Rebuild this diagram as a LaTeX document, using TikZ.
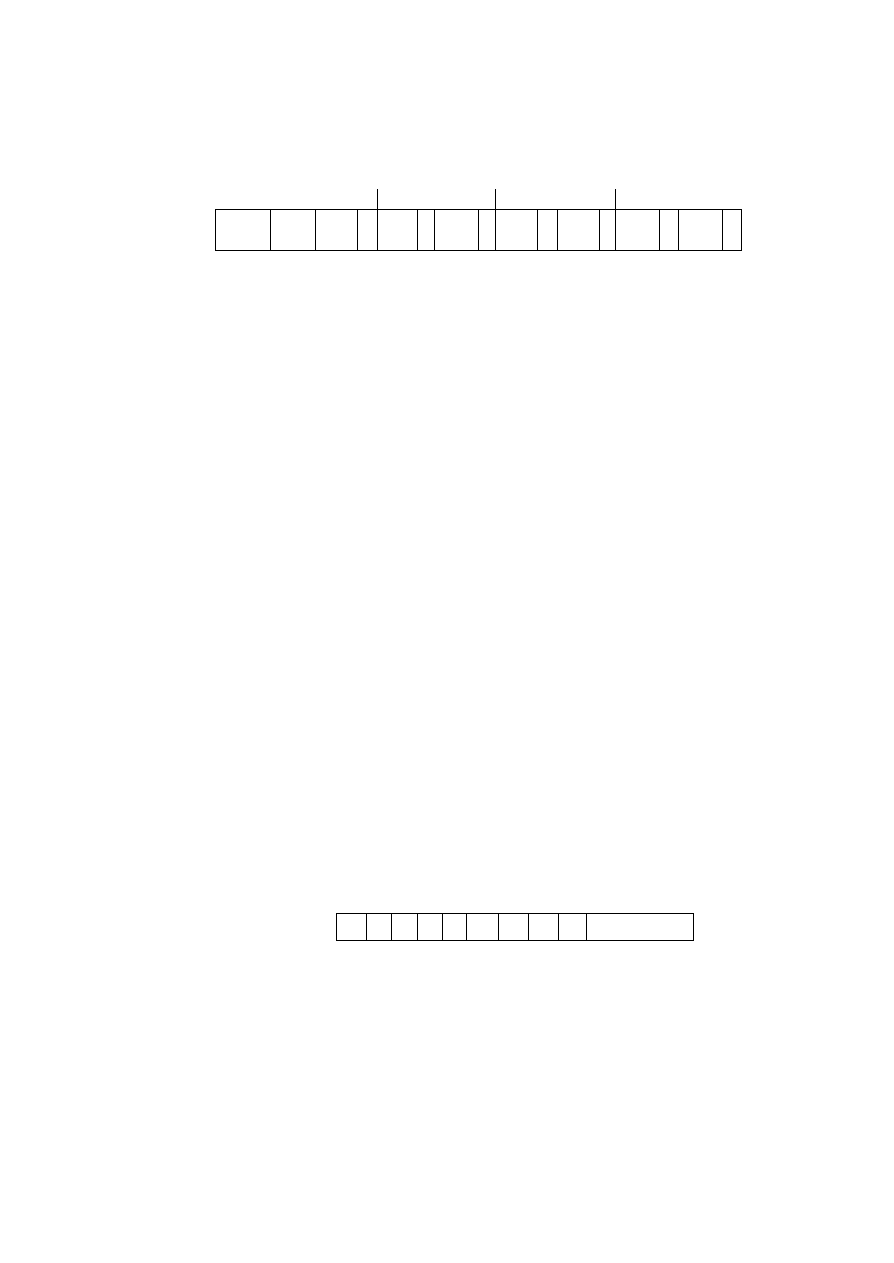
\documentclass[tikz,border=0pt]{standalone}
\begin{document}
\begin{tikzpicture}[x = 0.75pt, y = -0.75pt, line width = 0.6pt]

\useasboundingbox (0, 0) rectangle (893, 1263);

% upper register
\begin{scope}
\draw (215.3, 209) rectangle (741.3, 250);
\foreach \xd in {270.3, 315.3, 357.3, 377.3, 417.3, 434.3, 478.3, 495.3, 537.3, 557.3, 599.3, 615.3, 659.3, 678.3, 722.3}
  \draw (\xd, 209) -- (\xd, 250);

\foreach \xt in {377.3, 495.3, 615.3}
  \draw (\xt, 189) -- (\xt, 209);
\end{scope}


% lower register
\begin{scope}
\draw (336.3, 913.7) rectangle (693.3, 940.7);
\foreach \xd in {366, 391.3, 417.3, 442.7, 466.3, 498.7, 528.3, 558.3, 586.7}
  \draw (\xd, 913.7) -- (\xd, 940.7);
\end{scope}

\end{tikzpicture}
\end{document}
